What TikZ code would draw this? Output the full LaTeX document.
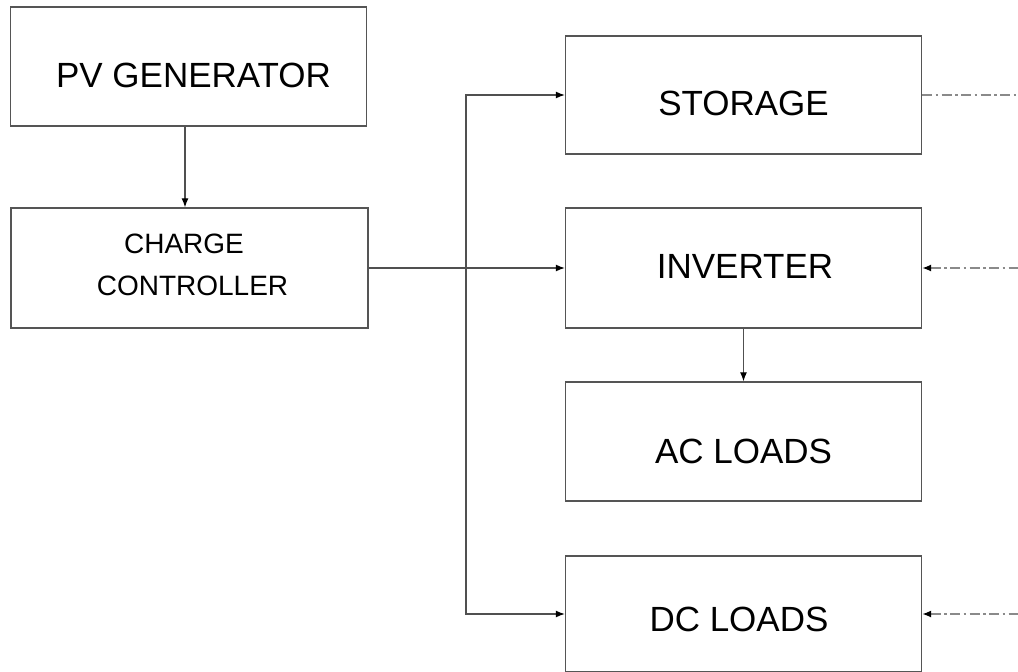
\documentclass[tikz,border=0pt]{standalone}
\usepackage{fontspec}
\setmainfont{Liberation Sans}
\usetikzlibrary{arrows.meta}
\definecolor{boxc}{HTML}{555555}
\definecolor{linec}{HTML}{505050}
\definecolor{ddc}{HTML}{8A8A8A}
\tikzset{
  blk/.style={draw=boxc, line width=1.4pt, minimum width=356pt, inner sep=0pt},
  big/.style={anchor=base, inner sep=0pt, font=\fontsize{35}{40}\selectfont},
  small/.style={anchor=base, inner sep=0pt, font=\fontsize{28}{32}\selectfont},
  conn/.style={draw=linec, line width=1.2pt},
  arr/.style={-{Latex[length=9pt,width=7pt,black]}},
  rarr/.style={{Latex[length=9pt,width=7pt,black]}-},
  dd/.style={draw=ddc, line width=1.4pt, dash pattern=on 10pt off 3.5pt on 2.5pt off 3.5pt}
}
\begin{document}
\begin{tikzpicture}[x=1pt,y=-1pt]
\useasboundingbox (0,0) rectangle (1018,672);
% boxes
\node[blk, minimum height=119pt] (pv) at (188.5,66.5) {};
\node[blk, minimum height=120pt, minimum width=357pt] (cc) at (189.5,268) {};
\node[blk, minimum height=118pt] (sto) at (743.5,95) {};
\node[blk, minimum height=120pt] (inv) at (743.5,268) {};
\node[blk, minimum height=119pt] (ac) at (743.5,441.5) {};
\node[blk, minimum height=116pt] (dc) at (743.5,614) {};
% texts
\node[big] (pvt) at (193.5,87) {PV GENERATOR};
\node[small] (cct1) at (184,253) {CHARGE};
\node[small] (cct2) at (192.5,295) {CONTROLLER};
\node[big] (stot) at (743.5,115) {STORAGE};
\node[big] (invt) at (745,278) {INVERTER};
\node[big] (act) at (743.5,463) {AC LOADS};
\node[big] (dct) at (739,631) {DC LOADS};
% connectors
\coordinate (bus) at (466,268);
\draw[conn,arr] (pv.south -| 185,0) -- (cc.north -| 185,0);
\draw[conn,arr] (cc.east) -- (inv.west);
\draw[conn,arr] (bus) |- (sto.west);
\draw[conn,arr] (bus) |- (dc.west);
\draw[conn,arr] (inv.south) -- (ac.north);
% dash-dot links to the right edge
\coordinate (stoR) at (1018,95);
\coordinate (invR) at (1018,268);
\coordinate (dcR) at (1018,614);
\draw[dd] (sto.east) -- (stoR);
\draw[dd,rarr] (inv.east) -- (invR);
\draw[dd,rarr] (dc.east) -- (dcR);
\end{tikzpicture}
\end{document}
